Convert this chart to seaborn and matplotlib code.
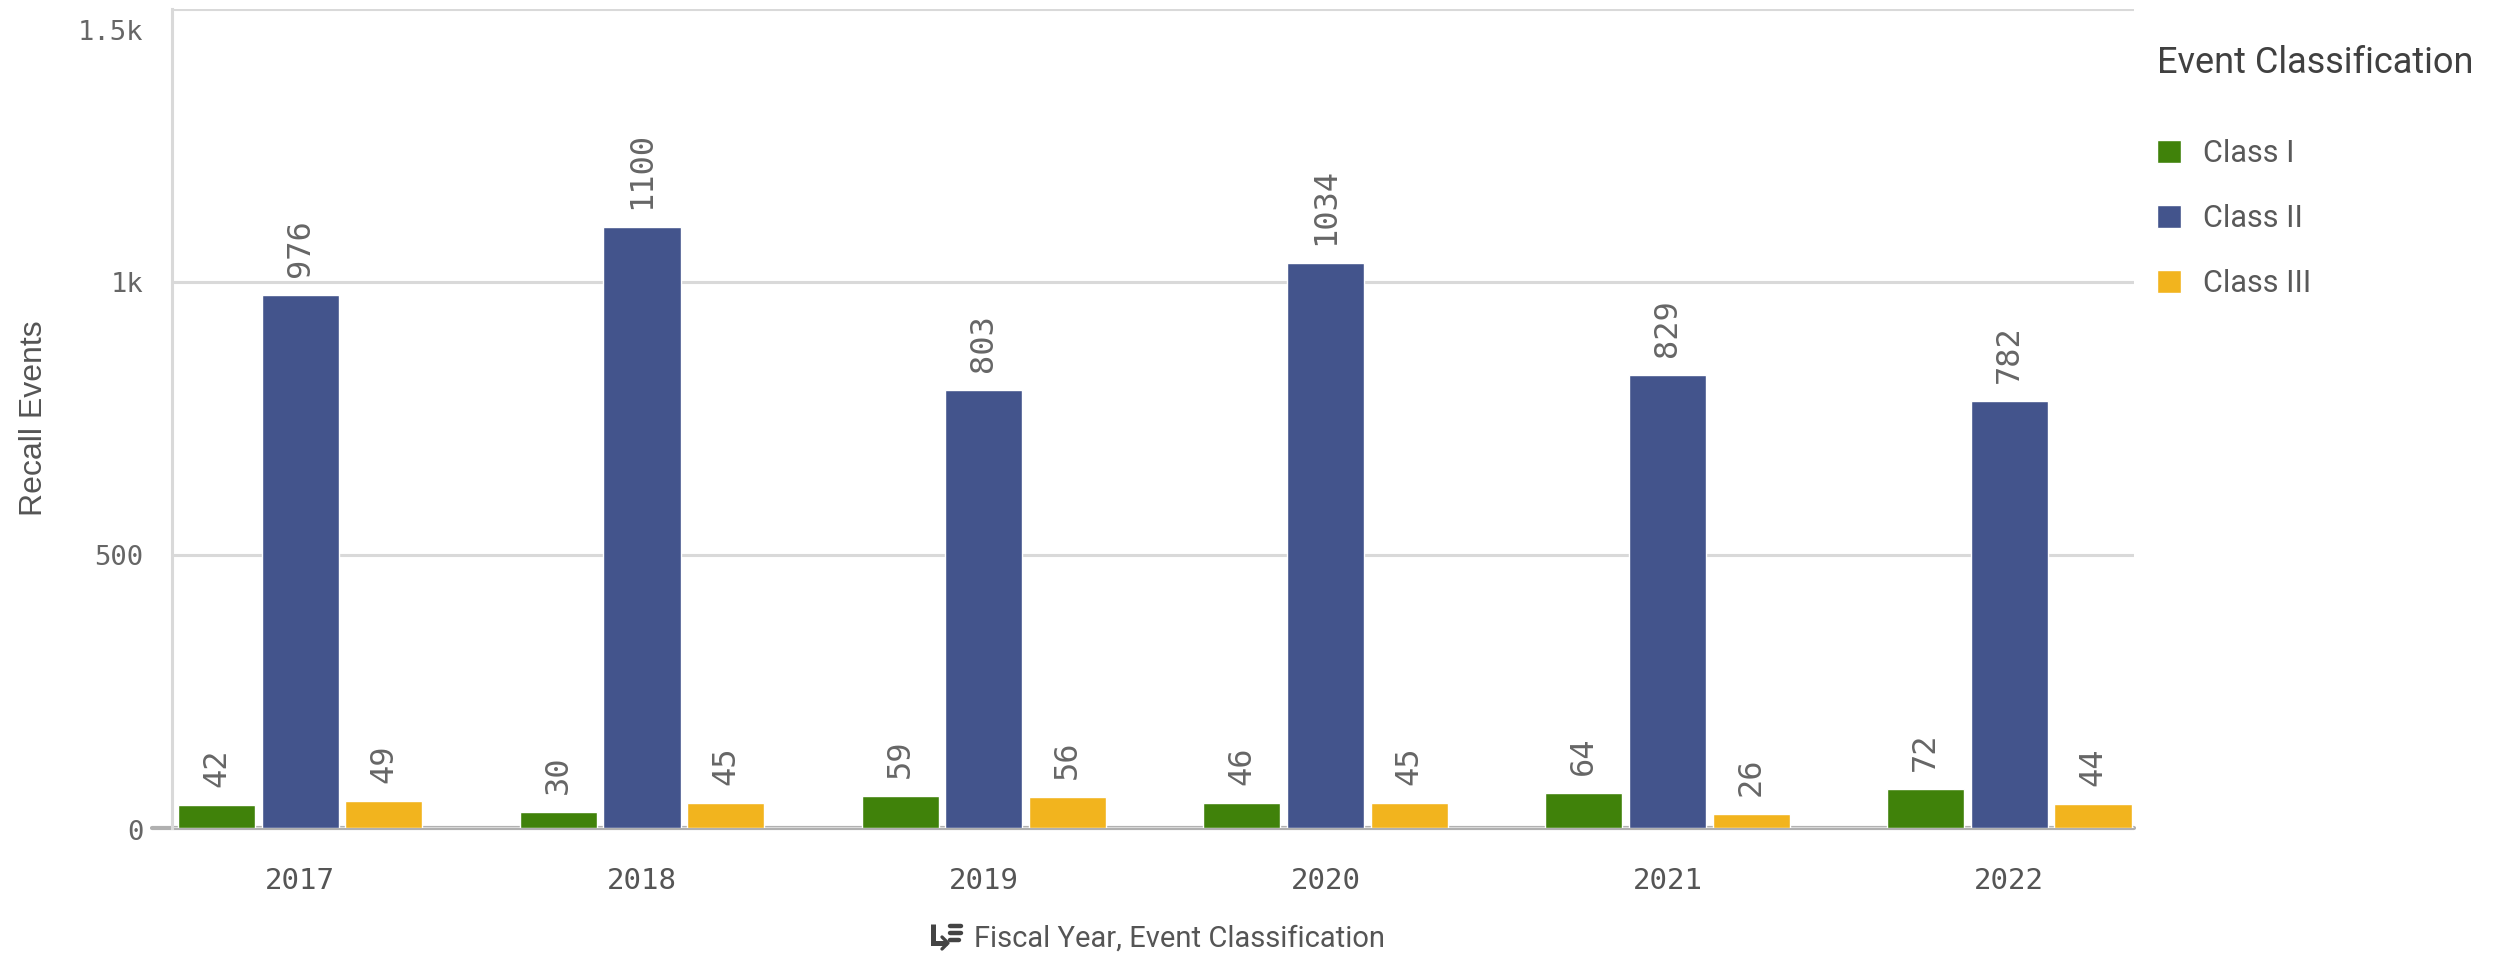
import matplotlib
matplotlib.use("Agg")
import matplotlib.pyplot as plt
import matplotlib.transforms as mtransforms
from matplotlib.lines import Line2D
import seaborn as sns
import pandas as pd

# Recall events per fiscal year, split by event classification
years = ["2017", "2018", "2019", "2020", "2021", "2022"]
classes = ["Class I", "Class II", "Class III"]
class_i = [42, 30, 59, 46, 64, 72]
class_ii = [976, 1100, 803, 1034, 829, 782]
class_iii = [49, 45, 56, 45, 26, 44]
y_ticks = [0, 500, 1000, 1500]
y_tick_labels = ["0", "500", "1k", "1.5k"]

palette = {"Class I": "#40820a", "Class II": "#43548c", "Class III": "#f2b41e"}

df = pd.DataFrame({
    "Fiscal Year": years * 3,
    "Event Classification": [c for c in classes for _ in years],
    "Recall Events": class_i + class_ii + class_iii,
})

sns.set_theme(style="white")
plt.rcParams["font.family"] = ["Roboto", "DejaVu Sans"]

W, H, DPI = 2502, 959, 100
fig = plt.figure(figsize=(W / DPI, H / DPI), dpi=DPI)
L, R, B, T = 172, 2134, 828, 9
ax = fig.add_axes([L / W, 1 - B / H, (R - L) / W, (B - T) / H])

sns.barplot(data=df, x="Fiscal Year", y="Recall Events", hue="Event Classification",
            hue_order=classes, order=years, palette=palette, width=0.735, gap=0.08,
            saturation=1, ax=ax, legend=True)

ax.set_ylim(0, 1500)
ax.set_xlim(-0.375, 5.365)

grid_c = "#d9d9d9"
ax.set_yticks(y_ticks)
ax.set_yticklabels(y_tick_labels)
ax.yaxis.grid(True, color=grid_c, linewidth=2.2)
ax.set_axisbelow(True)
for s in ["top", "right", "bottom"]:
    ax.spines[s].set_visible(False)
ax.spines["left"].set_color(grid_c)
ax.spines["left"].set_linewidth(2.2)
ax.axhline(0, color="#b0b0b0", linewidth=3, zorder=0.5, xmin=-0.01, clip_on=False)

mono = ["DejaVu Sans Mono"]
ax.tick_params(axis="y", length=14, width=2.2, color=grid_c, pad=6.5,
               labelsize=19.5, labelcolor="#666666")
ax.tick_params(axis="x", length=0, pad=28, labelsize=21, labelcolor="#555555")
for lab in ax.get_yticklabels() + ax.get_xticklabels():
    lab.set_fontfamily(mono)

# keep the outer y labels inside the plot height
ylabs = ax.get_yticklabels()
ylabs[0].set_transform(ylabs[0].get_transform() +
                       mtransforms.ScaledTranslation(0, -1.5 / 72, fig.dpi_scale_trans))
ylabs[-1].set_transform(ylabs[-1].get_transform() +
                        mtransforms.ScaledTranslation(0, -15 / 72, fig.dpi_scale_trans))

# value labels above each bar
for cont in ax.containers:
    ax.bar_label(cont, labels=[f"{int(v)}" for v in cont.datavalues], rotation=90,
                 padding=13, fontsize=23, color="#666666", fontfamily=mono)

ax.set_ylabel("Recall Events", fontsize=23, color="#555555",
              fontfamily=["Liberation Sans", "DejaVu Sans"])
ax.yaxis.label.set_va("center")
ax.yaxis.set_label_coords((34 - L) / (R - L), 0.5)
ax.set_xlabel("Fiscal Year, Event Classification", fontsize=21, color="#555555",
              ha="left")
ax.xaxis.set_label_coords((974 - L) / (R - L), -0.118)

# sort icon next to the x-axis title
def px(x, y):
    return x / W, 1 - y / H

icon_c = "#444444"
fig.add_artist(Line2D(*zip(px(933, 924), px(933, 943), px(947, 943)),
                      color=icon_c, linewidth=3.6, solid_capstyle="butt",
                      solid_joinstyle="miter"))
fig.add_artist(Line2D(*zip(px(942, 937), px(948, 943), px(942, 949)),
                      color=icon_c, linewidth=2.4))
for yy, x1 in [(926, 961), (933, 961), (940, 959)]:
    fig.add_artist(Line2D(*zip(px(950, yy), px(x1, yy)), color=icon_c, linewidth=3.2))

# legend on the right
handles, labels = ax.get_legend_handles_labels()
leg = ax.legend(handles, labels, title="Event Classification",
                loc="upper left", bbox_to_anchor=(2157 / W, 1 - 45 / H),
                bbox_transform=fig.transFigure, frameon=False,
                fontsize=22, title_fontsize=26, handlelength=0.78, handleheight=0.78,
                handletextpad=0.72, labelspacing=1.18, alignment="left",
                borderaxespad=0, borderpad=0)
leg.get_title().set_color("#404040")
leg._legend_box.sep = 42
for t in leg.get_texts():
    t.set_color("#595959")

fig.savefig("out.png", dpi=DPI, facecolor="white")
